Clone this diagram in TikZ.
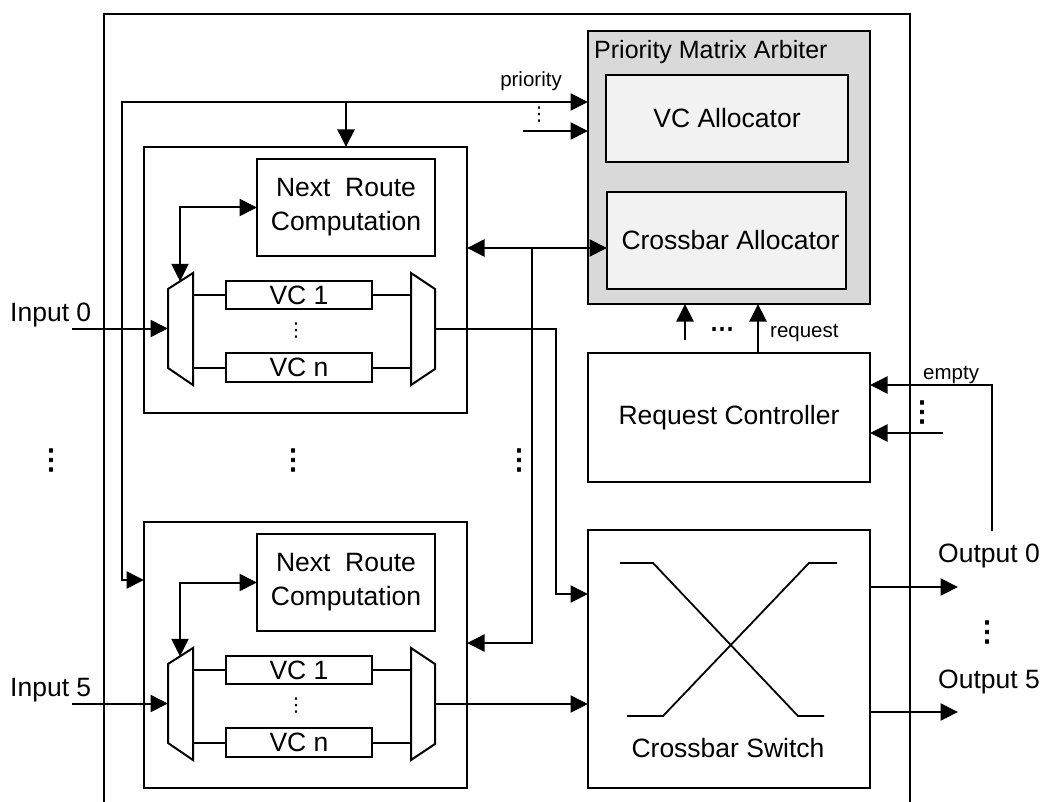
\documentclass[tikz,border=0pt]{standalone}
\usepackage{fontspec}
\setmainfont{Liberation Sans}
\newfontfamily\ellfont{DejaVu Sans}
\newfontfamily\ellfontbold[FakeBold=2.5]{DejaVu Sans}
\usetikzlibrary{arrows.meta}

\newcommand\txtmain{\fontsize{26.5}{34}\selectfont}
\newcommand\txttitle{\fontsize{25}{30}\selectfont}
\newcommand\txtsmall{\fontsize{20.5}{24}\selectfont}

\definecolor{arbgray}{HTML}{D9D9D9}
\definecolor{allocgray}{HTML}{F2F2F2}

\tikzset{
  >={Triangle[length=17.5pt,width=17pt]},
  wire/.style={line width=2pt},
  arr/.style={wire,->},
  darr/.style={wire,<->},
  blk/.style={draw,line width=2pt,rectangle,inner sep=0pt,outer sep=0pt,
              anchor=north west,font=\txtmain,align=center},
  frame/.style={line width=1.6pt},
  xline/.style={line width=1.8pt,line join=miter},
  bigdots/.style={inner sep=0pt,font=\ellfontbold\fontsize{28}{30}\selectfont},
  smalldots/.style={inner sep=0pt,font=\ellfont\fontsize{19}{21}\selectfont},
  % one input port: route computation, input demux, VC buffers, output mux
  router/.pic={
    \node[blk,minimum width=323pt,minimum height=266pt] (-box) at (0,0) {};
    \node[blk,minimum width=178pt,minimum height=97pt] (-nrc) at (113,12)
      {Next~~Route\\Computation};
    \node[blk,minimum width=146pt,minimum height=28pt] (-vc1) at (82,134) {VC 1};
    \node[blk,minimum width=146pt,minimum height=29pt] (-vcn) at (82,206) {VC n};
    \node[smalldots] (-vdots) at (152,184) {⋮};
    % demultiplexer
    \draw[wire,line join=miter] (24,142) -- (49,126) -- (49,238) -- (24,221) -- cycle;
    % multiplexer
    \draw[wire,line join=miter] (267,126) -- (291,142) -- (291,222) -- (267,238) -- cycle;
    \coordinate (-din)  at (24,181.5);
    \coordinate (-dtop) at (36,134.3);
    \coordinate (-dr1)  at (49,148);
    \coordinate (-dr2)  at (49,220.5);
    \coordinate (-ml1)  at (267,148);
    \coordinate (-ml2)  at (267,220.5);
    \coordinate (-mout) at (291,182);
    \draw[wire] (-dr1) -- (-vc1);
    \draw[wire] (-dr2) -- (-vcn);
    \draw[wire] (-ml1) -- (-vc1);
    \draw[wire] (-ml2) -- (-vcn);
    \draw[darr] (-nrc.west) -| (-dtop);
  }
}

\begin{document}
\begin{tikzpicture}[x=1pt,y=-1pt]
\useasboundingbox (0,0) rectangle (1049,802);

% router frame, open at the bottom
\draw[frame] (104,802) -- (104,14) -- (910,14) -- (910,802);

% arbiter and its allocators
\node[blk,fill=arbgray,minimum width=282pt,minimum height=273pt] (pma) at (588,31) {};
\node[anchor=base west,inner sep=0pt,font=\txttitle] (lpma) at (594,59) {Priority Matrix Arbiter};
\node[blk,fill=allocgray,minimum width=242pt,minimum height=87pt] (vca) at (606,75) {VC Allocator};
\node[blk,fill=allocgray,minimum width=239pt,minimum height=97pt] (xba) at (607,192) {\hspace*{8pt}Crossbar Allocator};

% request controller and crossbar switch
\node[blk,minimum width=282pt,minimum height=129pt] (rc) at (588,353) {Request Controller};
\node[blk,minimum width=282pt,minimum height=258pt] (xbar) at (588,530) {};
\node[anchor=base,inner sep=0pt,font=\txtmain] (lxs) at (728,757) {Crossbar Switch};
\draw[xline] (620,563) -- (653,563) -- (798,716) -- (824,716);
\draw[xline] (627,716) -- (663,716) -- (809,563) -- (837,563);

% input ports
\pic (r0) at (144,147) {router};
\pic (r5) at (144,522) {router};

% inputs
\node[anchor=base west,inner sep=0pt,font=\txtmain] (lin0) at (10,321) {Input 0};
\node[anchor=base west,inner sep=0pt,font=\txtmain] (lin5) at (10,696) {Input 5};
\coordinate (i0) at (72,328.5);
\coordinate (i5) at (72,703.5);
\draw[arr] (i0) -- (r0-din);
\draw[arr] (i5) -- (r5-din);

% priority lines
\coordinate (pL) at (122,102);
\coordinate (pB) at (346,102);
\coordinate (pD) at (122,580);
\coordinate (p2) at (523,131);
\draw[darr] (pL -| pma.west) -- (pL) -- (pD) -- (pD -| r5-box.west);
\draw[arr] (pB) -- (pB |- r0-box.north);
\draw[arr] (p2) -- (p2 -| pma.west);
\node[anchor=base,inner sep=0pt,font=\txtsmall] (lprio) at (531,87) {priority};
\node[smalldots] (pdots) at (539,115) {⋮};

% crossbar allocator lines
\coordinate (xa) at (532,248);
\coordinate (xb) at (532,643);
\draw[darr] (r0-box.east |- xa) -- (xa -| xba.west);
\draw[arr] (xa) -- (xb) -- (xb -| r5-box.east);

% port outputs to crossbar
\coordinate (o0b) at (556,594);
\draw[arr] (r0-mout) -| (o0b) -- (o0b -| xbar.west);
\draw[arr] (r5-mout) -- (r5-mout -| xbar.west);

% requests
\coordinate (rq1) at (758,340);
\coordinate (rq2) at (685,340);
\draw[arr] (rq1 |- rc.north) -- (rq1 |- pma.south);
\draw[arr] (rq2) -- (rq2 |- pma.south);
\node[inner sep=0pt,font=\ellfontbold\fontsize{24}{26}\selectfont] (rqdots) at (722,332) {⋯};
\node[anchor=base west,inner sep=0pt,font=\txtsmall] (lreq) at (770,337) {request};

% outputs
\coordinate (o0) at (958,587);
\coordinate (o5) at (958,712);
\draw[arr] (xbar.east |- o0) -- (o0);
\draw[arr] (xbar.east |- o5) -- (o5);
\node[anchor=base west,inner sep=0pt,font=\txtmain] (lout0) at (938,562) {Output 0};
\node[anchor=base west,inner sep=0pt,font=\txtmain] (lout5) at (938,688) {Output 5};
\node[bigdots] (odots) at (987,632) {⋮};

% empty flags
\coordinate (e1) at (992,531);
\coordinate (e2) at (992,385);
\coordinate (e3) at (943,433);
\draw[arr] (e1) -- (e2) -- (e2 -| rc.east);
\draw[arr] (e3) -- (e3 -| rc.east);
\node[anchor=base west,inner sep=0pt,font=\txtsmall] (lempty) at (923,379) {empty};
\node[bigdots] (edots) at (922,412) {⋮};

% repeated ports
\node[bigdots] (ldots) at (51,460) {⋮};
\node[bigdots] (mdots) at (293,460) {⋮};
\node[bigdots] (rdots) at (519,460) {⋮};
\end{tikzpicture}
\end{document}
